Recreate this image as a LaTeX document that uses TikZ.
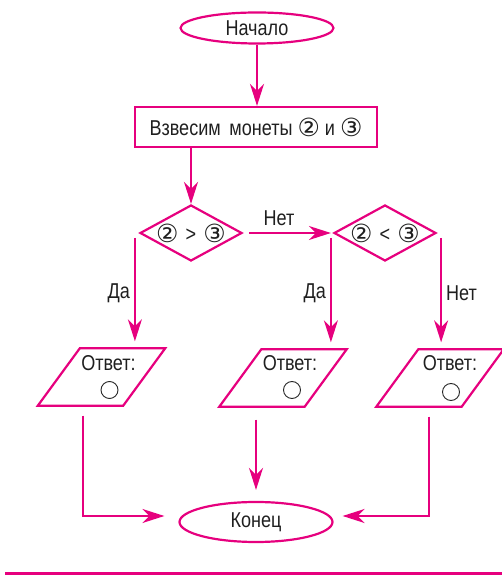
\documentclass[tikz,border=0pt]{standalone}
\usepackage{fontspec}
\setmainfont[FakeStretch=0.84]{Liberation Sans}
\newfontfamily\symf{DejaVu Sans}
\usetikzlibrary{shapes.geometric,arrows.meta,calc}
\definecolor{mag}{RGB}{230,0,126}
\newcommand{\cd}[2][25]{\raisebox{-1pt}{\symf\fontsize{#1}{24}\selectfont #2}}
\begin{document}
\begin{tikzpicture}[x=1pt,y=1pt,
 every node/.style={font=\fontsize{21.5}{24}\selectfont, text=black!88},
 term/.style={ellipse, draw=mag, line width=2.2pt, minimum width=153pt, inner sep=0pt},
 proc/.style={rectangle, draw=mag, line width=2.2pt, minimum width=242pt, minimum height=40pt, inner sep=0pt},
 dec/.style={diamond, draw=mag, line width=2.2pt, minimum width=102pt, minimum height=56pt, inner sep=0pt, aspect=1.8},
 iobody/.style={rectangle, minimum width=85pt, minimum height=57pt, inner sep=0pt},
 ioline/.style={draw=mag, line width=2.2pt, line join=miter},
 coin/.style={circle, draw=black!85, line width=0.9pt, minimum size=17pt, inner sep=0pt},
 arr/.style={draw=mag, line width=2pt, -{Stealth[length=22pt,width=14pt,inset=7pt]}},
 lab/.style={inner sep=0pt},
]
\useasboundingbox (0,0) rectangle (502,575);
\node[term, minimum height=31pt] (start) at (257,547) {Начало};
\node[proc] (box) at (256,448) {Взвесим\ \,монеты \cd{②} и \cd{③}};
\node[dec] (d1) at (191,342) {};
\node[dec] (d2) at (385,342) {};
\node (q1) at (d1.center) {\cd{②}\,\,>\,\,\cd{③}};
\node (q2) at (d2.center) {\cd{②}\,\,<\,\,\cd{③}};
\node[iobody] (p1) at (101.5,198) {};
\node[iobody] (p2) at (283,197) {};
\node[iobody] (p3) at (440,197) {};
\foreach \p in {p1,p2,p3}{
  \draw[ioline] ([xshift=-21pt]\p.south west) -- ([xshift=-21pt]\p.south east)
     -- ([xshift=21pt]\p.north east) -- ([xshift=21pt]\p.north west) -- cycle;
}
\node[term, minimum height=40pt] (end) at (256,53) {Конец};
% texts in outputs
\node (t1) at ([shift={(7,14)}]p1.center) {Ответ:};
\node[coin] (c1) at ([shift={(8,-13)}]p1.center) {};
\node (t2) at ([shift={(7,15)}]p2.center) {Ответ:};
\node[coin] (c2) at ([shift={(9,-12)}]p2.center) {};
\node (t3) at ([shift={(10,15)}]p3.center) {Ответ:};
\node[coin] (c3) at ([shift={(11,-14)}]p3.center) {};
% connectors
\draw[arr] (start.south) -- (start.south |- box.north);
\draw[arr] (box.south -| d1.north) -- (d1.north);
\draw[arr, shorten <=6pt, shorten >=2pt] (d1.east) -- node[pos=0.4, above=6pt, lab] (no1) {Нет} (d2.west);
\coordinate (a1) at ([xshift=-4pt,yshift=-5pt]d1.west);
\coordinate (a2) at ([xshift=-2pt,yshift=-5pt]d2.west);
\coordinate (a3) at ([xshift=4pt,yshift=-5pt]d2.east);
\draw[arr, shorten >=7pt] (a1) -- node[midway, left=4pt, lab] (y1) {Да} (a1 |- p1.north);
\draw[arr, shorten >=7pt] (a2) -- node[midway, left=4pt, lab] (y2) {Да} (a2 |- p2.north);
\draw[arr, shorten >=7pt] (a3) -- node[midway, right=4pt, lab] (no2) {Нет} (a3 |- p3.north);
\coordinate (b1) at ([xshift=-18.5pt,yshift=-10pt]p1.south);
\coordinate (b2) at ($(end.north |- p2.south)+(0,-13)$);
\coordinate (b3) at ([xshift=-11pt,yshift=-10pt]p3.south);
\coordinate (e1) at ([yshift=6pt]end.west);
\coordinate (e3) at ([yshift=6pt]end.east);
\draw[arr, shorten >=14pt] (b1) |- (e1);
\draw[arr, shorten >=11pt] (b2) -- (end.north);
\draw[arr, shorten >=9pt] (b3) |- (e3);
% bottom rule
\draw[mag, line width=3pt] (5,1.5) -- (502,1.5);
\end{tikzpicture}
\end{document}
